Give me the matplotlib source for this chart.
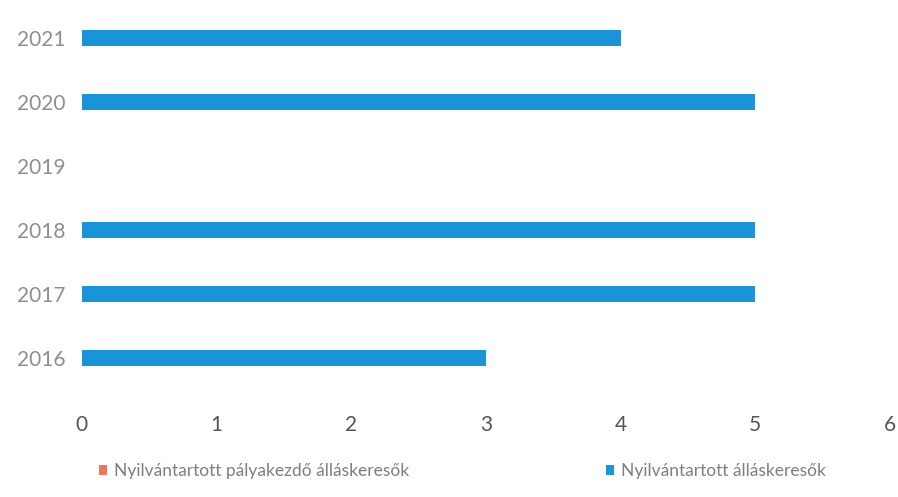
import matplotlib
matplotlib.use("Agg")
import matplotlib.pyplot as plt
import numpy as np

years = ["2016", "2017", "2018", "2019", "2020", "2021"]
palyakezdo = [0, 0, 0, 0, 0, 0]
allaskeresok = [3, 5, 5, 0, 5, 4]
xticks = [0, 1, 2, 3, 4, 5, 6]
series_names = ["Nyilvántartott pályakezdő álláskeresők", "Nyilvántartott álláskeresők"]

plt.rcParams['font.family'] = ['Lato', 'DejaVu Sans']

fig = plt.figure(figsize=(8.98, 4.97), dpi=100)
ax = fig.add_axes([0.091, 0.215, 0.900, 0.773])

y = np.arange(len(years))
h = 0.25
b1 = ax.barh(y - 0.12, palyakezdo, height=h, color="#f0785a", label=series_names[0])
b2 = ax.barh(y, allaskeresok, height=h, color="#1a94d6", label=series_names[1])

ax.set_xlim(0, 6)
ax.set_ylim(-0.5, 5.5)
ax.set_yticks(y)
ax.set_yticklabels(years, fontsize=15, color="#8f8f8f")
ax.set_xticks(xticks)
ax.set_xticklabels([str(t) for t in xticks], fontsize=15, color="#555555")
ax.tick_params(axis="both", length=0)
ax.tick_params(axis="y", pad=12)
ax.tick_params(axis="x", pad=18)
for s in ax.spines.values():
    s.set_visible(False)

leg = fig.legend(handles=[b1, b2], labels=series_names, loc="center",
                 bbox_to_anchor=(0.515, 0.052), ncol=2, frameon=False,
                 fontsize=12.5, labelcolor="#7f7f7f", handlelength=0.5,
                 handleheight=0.5, handletextpad=0.4, columnspacing=11.3)

fig.savefig("out.png", dpi=100)
